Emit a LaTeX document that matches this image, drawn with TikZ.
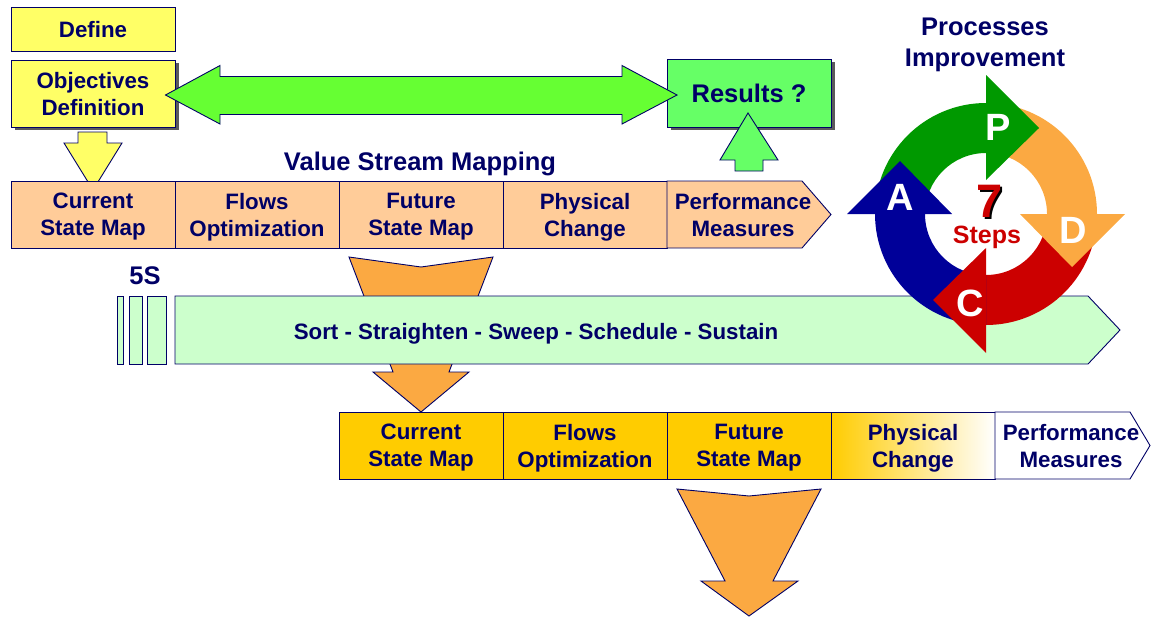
\documentclass[tikz,border=0pt]{standalone}
\usepackage{fontspec}
\setmainfont{Liberation Sans}
\usetikzlibrary{shadows}

\definecolor{navy}{RGB}{0,0,102}
\definecolor{lemon}{RGB}{255,255,102}
\definecolor{mint}{RGB}{102,255,102}
\definecolor{lime}{RGB}{102,255,51}
\definecolor{peach}{RGB}{255,204,153}
\definecolor{pale}{RGB}{204,255,204}
\definecolor{gold}{RGB}{255,204,0}
\definecolor{amber}{RGB}{251,169,66}
\definecolor{pgreen}{RGB}{0,153,0}
\definecolor{pred}{RGB}{204,0,0}
\definecolor{pblue}{RGB}{0,0,153}
\definecolor{shade}{RGB}{90,90,90}

\begin{document}
\begin{tikzpicture}[x=1pt,y=-1pt,
  txt/.style={text=navy, font=\fontsize{22.3}{27}\selectfont\bfseries, align=center, inner sep=0pt, text depth=0pt},
  big/.style={txt, font=\fontsize{25.5}{31}\selectfont\bfseries},
  box/.style={txt, draw=navy, line width=0.9pt},
  cell/.style={box, minimum width=164pt, minimum height=67pt},
  blk/.style={draw=navy, line width=0.9pt},
  letter/.style={text=white, font=\fontsize{38}{38}\selectfont\bfseries, inner sep=0pt},
  shadowed/.style={drop shadow={shadow xshift=3.5pt, shadow yshift=-3pt, fill=shade, opacity=1}}]

  \useasboundingbox (0,0) rectangle (1151,616);

  % define
  \node[box, fill=lemon, minimum width=164pt, minimum height=44pt] (define) at (93,29) {Define};
  \node[box, fill=lemon, minimum width=164pt, minimum height=67pt, shadowed] (objectives) at (93,93.5) {Objectives\\Definition};
  \node[box, big, draw=navy, line width=0.9pt, fill=mint, minimum width=164pt, minimum height=68pt, shadowed] (results) at (749,93) {Results ?};

  % arrows round the top
  \draw[blk, fill=lime] (165.5,95) -- (220,65.5) -- (220,76.5) -- (622,76.5) -- (622,65.5) -- (677,95)
    -- (622,124) -- (622,114.5) -- (220,114.5) -- (220,124) -- cycle;
  \draw[blk, fill=lemon] (78,132) -- (107,132) -- (107,143) -- (122,143) -- (93,190) -- (64,143) -- (78,143) -- cycle;
  \draw[blk, fill=mint] (735,171) -- (763,171) -- (763,160) -- (778,160) -- (748,113) -- (720,160) -- (735,160) -- cycle;

  % value stream mapping
  \node[big] (vsm) at (420,161) {Value Stream Mapping};
  \foreach \i/\t in {0/{Current\\State Map},1/{Flows\\Optimization},2/{Future\\State Map},3/{Physical\\Change}}
    \node[cell, fill=peach] (top\i) at (93+164*\i,214.5) {\t};
  \draw[blk, fill=peach] (667,181) -- (802,181) -- (831,214.5) -- (802,248) -- (667,248) -- cycle;
  \node[txt] (top4) at (743,214.5) {Performance\\Measures};

  % orange arrow behind the 5S bar
  \draw[blk, fill=amber] (349,257) -- (421,267) -- (493,257) -- (449,372) -- (469,372) -- (421,412)
    -- (373,372) -- (393,372) -- cycle;

  % 5S
  \node[big] (fives) at (145,276) {5S};
  \foreach \a/\b in {117/123,129/142,147/166}
    \draw[blk, fill=pale] (\a,296) rectangle (\b,364);
  \draw[blk, fill=pale] (175,296) -- (1088,296) -- (1120,330) -- (1088,364) -- (175,364) -- cycle;
  \node[txt] (sort) at (536,331) {Sort - Straighten - Sweep - Schedule - Sustain};

  % second row
  \foreach \i/\t in {0/{Current\\State Map},1/{Flows\\Optimization},2/{Future\\State Map}}
    \node[cell, fill=gold] (low\i) at (421+164*\i,445.5) {\t};
  \node[cell, left color=gold, right color=white] (low3) at (913,445.5) {Physical\\Change};
  \draw[blk, fill=white] (995,412) -- (1130,412) -- (1150,445.5) -- (1130,479) -- (995,479) -- cycle;
  \node[txt] (low4) at (1071,445.5) {Performance\\Measures};

  % last arrow
  \draw[blk, fill=amber] (677,489) -- (749,496) -- (821,489) -- (773,581) -- (798,581) -- (749,616)
    -- (701,581) -- (725,581) -- cycle;

  % processes improvement
  \node[big] (improve) at (985,42) {Processes\\Improvement};
  \begin{scope}[shift={(986,214)}]
    \fill[pgreen] (180:111) arc[start angle=180, end angle=270, radius=111] -- (270:61) arc[start angle=270, end angle=180, radius=61] -- cycle;
    \fill[amber] (270:111) arc[start angle=270, end angle=360, radius=111] -- (0:61) arc[start angle=360, end angle=270, radius=61] -- cycle;
    \fill[pred] (0:111) arc[start angle=0, end angle=90, radius=111] -- (90:61) arc[start angle=90, end angle=0, radius=61] -- cycle;
    \fill[pblue] (90:111) arc[start angle=90, end angle=180, radius=111] -- (180:61) arc[start angle=180, end angle=90, radius=61] -- cycle;
    \fill[pgreen] (0,-34) -- (0,-139) -- (53,-86) -- cycle;
    \fill[amber] (34,0) -- (139,0) -- (86,53) -- cycle;
    \fill[pred] (0,34) -- (0,139) -- (-53,86) -- cycle;
    \fill[pblue] (-34,0) -- (-139,0) -- (-86,-53) -- cycle;
    \node[letter] (p) at (12,-87) {P};
    \node[letter] (d) at (87,16) {D};
    \node[letter] (c) at (-16,89) {C};
    \node[letter] (a) at (-86,-17) {A};
    \node[font=\fontsize{47}{47}\selectfont\bfseries, text=black, inner sep=0pt, text height=33pt, text depth=0pt, anchor=south] (sevenback) at (6,6) {7};
    \node[font=\fontsize{47}{47}\selectfont\bfseries, text=pred, inner sep=0pt, text height=33pt, text depth=0pt, anchor=south] (seven) at (4,4) {7};
    \node[font=\fontsize{25}{25}\selectfont\bfseries, text=pred, inner sep=0pt, text height=18pt, text depth=5pt, anchor=north] (steps) at (1,11) {Steps};
  \end{scope}
\end{tikzpicture}
\end{document}
